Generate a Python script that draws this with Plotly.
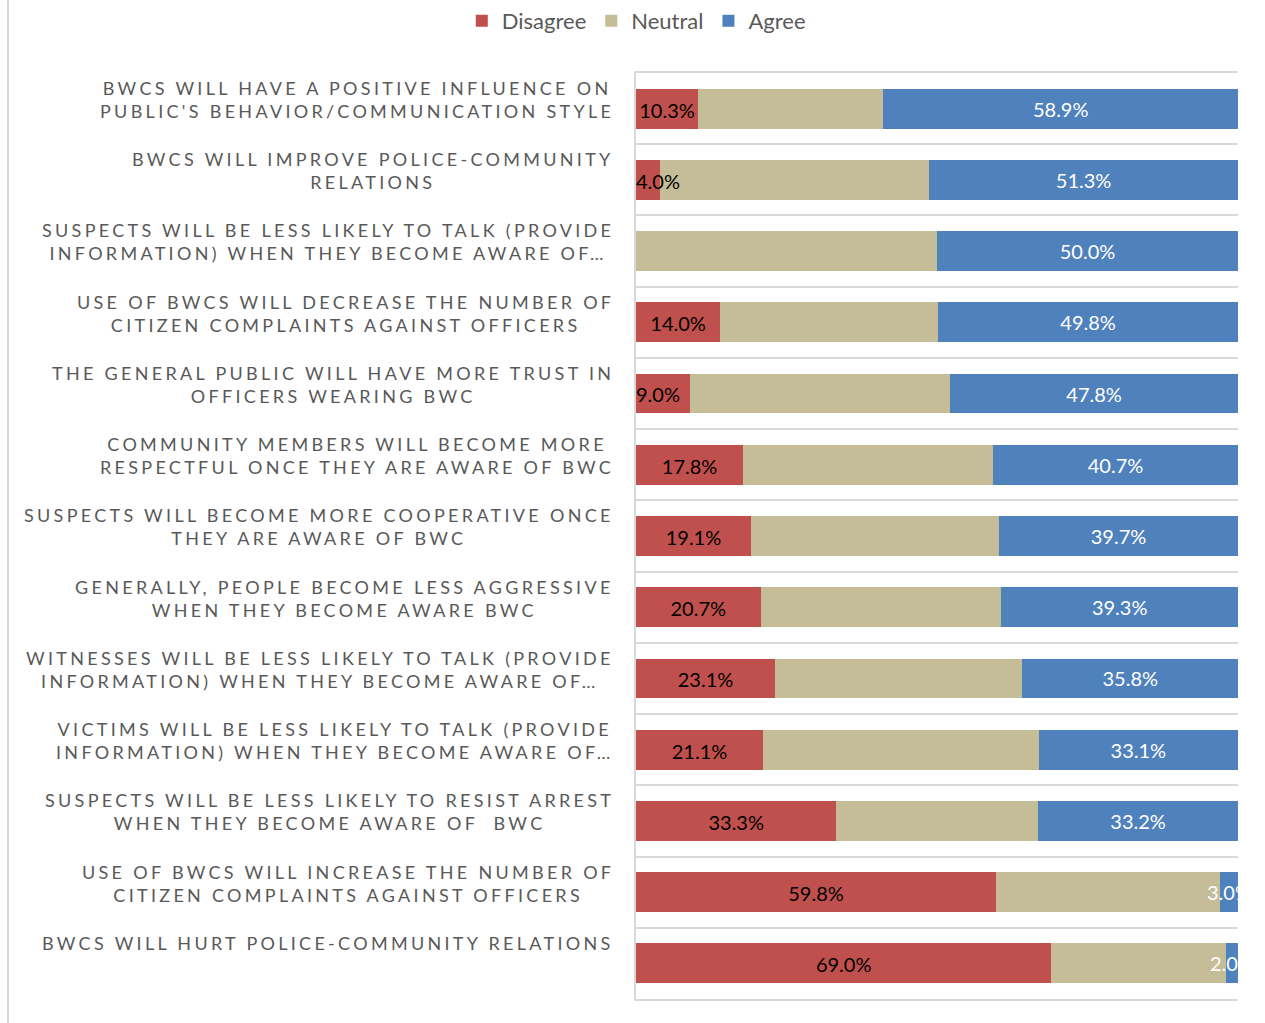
import plotly.graph_objects as go

# Survey statements (top to bottom), each split into its display lines
statements = [
    ["BWCS WILL HAVE A POSITIVE INFLUENCE ON", "PUBLIC'S BEHAVIOR/COMMUNICATION STYLE"],
    ["BWCS WILL IMPROVE POLICE-COMMUNITY", "RELATIONS"],
    ["SUSPECTS WILL BE LESS LIKELY TO TALK (PROVIDE", "INFORMATION) WHEN THEY BECOME AWARE OF…"],
    ["USE OF BWCS WILL DECREASE THE NUMBER OF", "CITIZEN COMPLAINTS AGAINST OFFICERS"],
    ["THE GENERAL PUBLIC WILL HAVE MORE TRUST IN", "OFFICERS WEARING BWC"],
    ["COMMUNITY MEMBERS WILL BECOME MORE", "RESPECTFUL ONCE THEY ARE AWARE OF BWC"],
    ["SUSPECTS WILL BECOME MORE COOPERATIVE ONCE", "THEY ARE AWARE OF BWC"],
    ["GENERALLY, PEOPLE BECOME LESS AGGRESSIVE", "WHEN THEY BECOME AWARE BWC"],
    ["WITNESSES WILL BE LESS LIKELY TO TALK (PROVIDE", "INFORMATION) WHEN THEY BECOME AWARE OF…"],
    ["VICTIMS WILL BE LESS LIKELY TO TALK (PROVIDE", "INFORMATION) WHEN THEY BECOME AWARE OF…"],
    ["SUSPECTS WILL BE LESS LIKELY TO RESIST ARREST", "WHEN THEY BECOME AWARE OF \u00a0BWC"],
    ["USE OF BWCS WILL INCREASE THE NUMBER OF", "CITIZEN COMPLAINTS AGAINST OFFICERS"],
    ["BWCS WILL HURT POLICE-COMMUNITY RELATIONS"],
]

# Response shares (%)
disagree = [10.3, 4.0, None, 14.0, 9.0, 17.8, 19.1, 20.7, 23.1, 21.1, 33.3, 59.8, 69.0]
neutral = [30.8, 44.7, 50.0, 36.2, 43.2, 41.5, 41.2, 40.0, 41.1, 45.8, 33.5, 37.2, 29.0]
agree = [58.9, 51.3, 50.0, 49.8, 47.8, 40.7, 39.7, 39.3, 35.8, 33.1, 33.2, 3.0, 2.0]

series_names = ["Disagree", "Neutral", "Agree"]
series_colors = ["#C0504D", "#C4BD97", "#4F81BD"]

categories = [" ".join(lines) for lines in statements]
n_cat = len(categories)


def pct_labels(values):
    return ["" if v is None else f"{v:.1f}%" for v in values]


LABEL_FONT = "Lato, 'Open Sans', sans-serif"
GRID = "#D9D9D9"
VALUE_SIZE = 20

fig = go.Figure()

for name, color, values in zip(series_names, series_colors, [disagree, neutral, agree]):
    is_agree = name == "Agree"
    fig.add_trace(go.Bar(
        y=categories, x=values, name=name, orientation="h",
        marker=dict(color=color, line=dict(width=0)),
        text=pct_labels(values) if is_agree else None,
        textposition="inside" if is_agree else "none",
        insidetextanchor="middle", textangle=0, constraintext="none",
        cliponaxis=True,
        textfont=dict(family=LABEL_FONT, size=VALUE_SIZE, color="#FFFFFF"),
        hoverinfo="x+name",
    ))

# Disagree value labels sit above every segment (own overlay axis so the
# text can be nudged onto the bar's optical centre); short bars keep their
# label inside the plot by anchoring it at the bar's base.
dis_x, dis_y, dis_pos = [], [], []
for i, v in enumerate(disagree):
    dis_y.append(i + 0.055)
    if v is None:
        dis_x.append(None)
        dis_pos.append("middle center")
    elif v < 10:
        dis_x.append(0)
        dis_pos.append("middle right")
    else:
        dis_x.append(v / 2)
        dis_pos.append("middle center")

fig.add_trace(go.Scatter(
    y=dis_y, x=dis_x, mode="text", text=pct_labels(disagree),
    textposition=dis_pos, cliponaxis=False, showlegend=False, hoverinfo="skip",
    textfont=dict(family=LABEL_FONT, size=VALUE_SIZE, color="#000000"),
    xaxis="x", yaxis="y2",
))

# Category labels: letter-spaced, centred lines, right edge next to the axis
spacing = "letter-spacing:3.3px"
annotations = []
for i, lines in enumerate(statements):
    text = "<br>".join(f"<span style='{spacing}'>{ln}</span>" for ln in lines)
    annotations.append(dict(
        xref="paper", yref="y", x=-0.034, y=i - 0.5,
        xanchor="right", yanchor="top", align="center", yshift=-2,
        text=text, showarrow=False,
        font=dict(family=LABEL_FONT, size=18, color="#595959"),
    ))

fig.update_layout(
    width=1265, height=1023,
    barmode="stack", bargap=0.44,
    plot_bgcolor="#FFFFFF", paper_bgcolor="#FFFFFF",
    margin=dict(l=636, r=27, t=73, b=24, autoexpand=False),
    font=dict(family=LABEL_FONT, color="#595959"),
    showlegend=True,
    legend=dict(
        orientation="h", xref="container", x=0.503, xanchor="center",
        yref="container", y=0.9795, yanchor="middle",
        font=dict(family=LABEL_FONT, size=22, color="#595959"),
        traceorder="normal", bgcolor="rgba(0,0,0,0)",
    ),
    xaxis=dict(
        range=[0, 100], showticklabels=False, ticks="", showgrid=False,
        zeroline=False, showline=True, mirror=True, linecolor=GRID, linewidth=2,
        fixedrange=True,
    ),
    yaxis=dict(
        range=[n_cat - 0.5, -0.5], type="category", showticklabels=False, ticks="",
        tickson="boundaries", showgrid=True, gridcolor=GRID, gridwidth=2,
        showline=True, linecolor=GRID, linewidth=2, zeroline=False,
        fixedrange=True,
    ),
    yaxis2=dict(
        overlaying="y", type="linear", range=[n_cat - 0.5, -0.5],
        visible=False, showgrid=False, zeroline=False, fixedrange=True,
    ),
    annotations=annotations,
    shapes=[dict(
        type="line", xref="paper", yref="paper", xsizemode="pixel",
        xanchor=0, x0=-628, x1=-628, y0=-0.1, y1=1.2,
        line=dict(color=GRID, width=2),
    )],
)

fig.write_html("out.html")
